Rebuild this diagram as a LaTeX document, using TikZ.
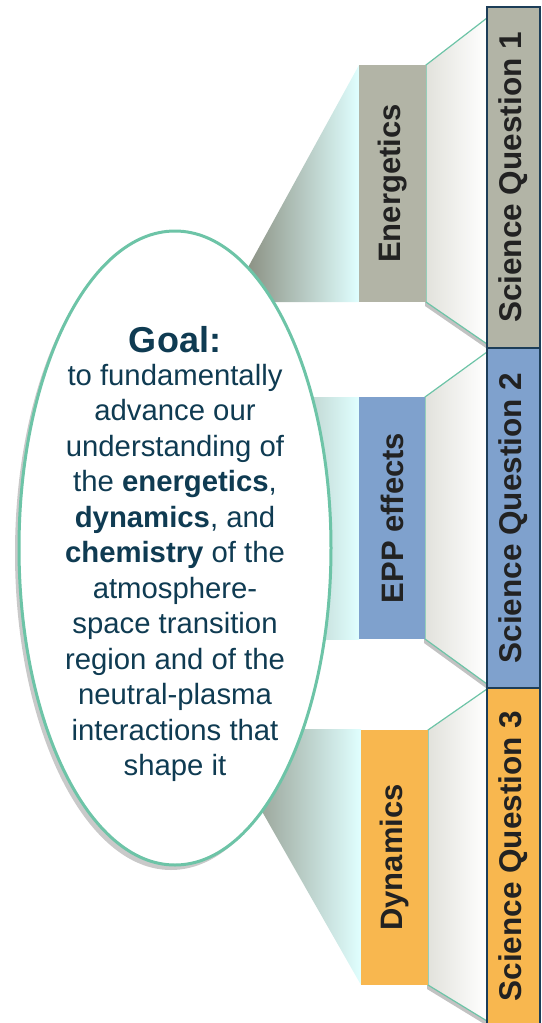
\documentclass[tikz,border=0pt]{standalone}
\usepackage{fontspec}
\setmainfont{Liberation Sans}
\usetikzlibrary{shapes.geometric,shadows}

\definecolor{energyGray}{HTML}{B2B4A6}
\definecolor{eppBlue}{HTML}{7FA1CD}
\definecolor{dynOrange}{HTML}{F8B74F}
\definecolor{tealLine}{HTML}{6DC4A7}
\definecolor{navyEdge}{HTML}{1C3D58}
\definecolor{goalInk}{HTML}{0F3B52}
\definecolor{labelInk}{HTML}{222222}
\definecolor{wedgeDark}{HTML}{7E8070}
\definecolor{wedgeLight}{HTML}{E0FFFF}
\definecolor{funnelGray}{HTML}{E2E2DC}

\begin{document}
\begin{tikzpicture}[x=1pt,y=-1pt,
  sqbox/.style={draw=navyEdge, line width=2.2pt},
  topic/.style={rotate=90, text=labelInk, font=\bfseries\fontsize{31}{31}\selectfont},
  question/.style={rotate=90, text=labelInk, font=\bfseries\fontsize{31.5}{31.5}\selectfont},
  wedge/.style={left color=wedgeDark, right color=wedgeLight},
  funnel/.style={draw=tealLine, line width=1.2pt, left color=funnelGray, right color=white,
    drop shadow={shadow xshift=-1pt, shadow yshift=-4pt, opacity=.4, fill=black!60}}]

\useasboundingbox (0,0) rectangle (541,1023);

% cunei verso l'ellisse
\shade[wedge] (229,302) -- (359,65) -- (359,302) -- cycle;
\shade[wedge] (200,397) -- (359,397) -- (359,639) -- (200,639) -- cycle;
\shade[wedge] (215,729) -- (361,729) -- (361,985) -- cycle;

% ellisse dell'obiettivo
\node[ellipse, draw=tealLine, line width=3pt, fill=white,
  minimum width=312pt, minimum height=634pt,
  drop shadow={shadow xshift=-4pt, shadow yshift=-5pt, opacity=.3, fill=black!70}]
  (goal) at (175,548) {};

% testo
\node[anchor=base, text=goalInk, font=\bfseries\fontsize{36}{36}\selectfont]
  (goaltitle) at (175,352) {Goal:};
\node[anchor=north, inner sep=0pt, align=center, text=goalInk,
  font=\fontsize{29.3}{35.5}\selectfont] (goalbody) at (175,364)
  {to fundamentally\\ advance our\\ understanding of\\ the \textbf{energetics},\\
   \textbf{dynamics}, and\\ \textbf{chemistry} of the\\ atmosphere-\\ space transition\\
   region and of the\\ neutral-plasma\\ interactions that\\ shape it};

% imbuti verso la barra
\draw[funnel] (426,65) -- (487,18) -- (487,344) -- (426,302) -- cycle;
\draw[funnel] (425,397) -- (487,352) -- (487,684) -- (425,639) -- cycle;
\draw[funnel] (428,730) -- (487,689) -- (487,1021) -- (428,985) -- cycle;

% riquadri dei temi
\fill[energyGray] (359,65) rectangle (426,302);
\fill[eppBlue] (359,397) rectangle (425,639);
\fill[dynOrange] (361,730) rectangle (428,985);

\node[topic] (energetics) at (392.5,183.5) {Energetics};
\node[topic] (epp) at (392,518) {EPP effects};
\node[topic] (dynamics) at (394.5,857.5) {Dynamics};

% barra delle domande
\draw[sqbox, fill=energyGray] (487,7) rectangle (540,348);
\draw[sqbox, fill=eppBlue] (487,348) rectangle (540,688);
\draw[sqbox, fill=dynOrange] (487,688) rectangle (540,1030);

\node[question] (sq1) at (513.5,177.5) {Science Question 1};
\node[question] (sq2) at (513.5,518) {Science Question 2};
\node[question] (sq3) at (513.5,856) {Science Question 3};

\end{tikzpicture}
\end{document}
